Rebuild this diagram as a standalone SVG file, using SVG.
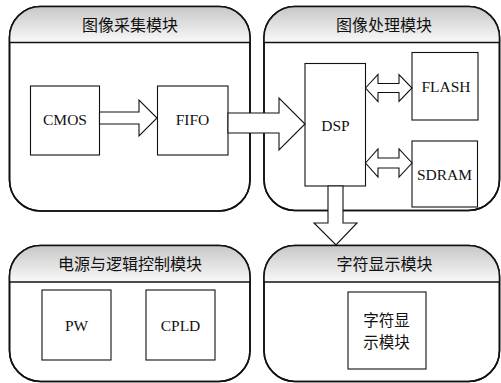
<svg xmlns="http://www.w3.org/2000/svg" width="501" height="383" viewBox="0 0 501 383">
<style>
.cont{fill:#fff;stroke:#111;stroke-width:1.6}
.cont-o{fill:none;stroke:#111;stroke-width:1.6}
.hline{stroke:#111;stroke-width:1.5}
.box{fill:#fff;stroke:#111;stroke-width:1.1}
.arrow{fill:#fff;stroke:#111;stroke-width:1.1;stroke-linejoin:miter}
.title{font-family:"Noto Sans CJK SC","Noto Sans",sans-serif;font-size:16px;fill:#111;text-anchor:middle}
.lbl{font-family:"Liberation Serif","Times New Roman",serif;font-size:15.5px;fill:#111;text-anchor:middle}
.cjk{font-family:"Noto Sans CJK SC","Noto Sans",sans-serif;font-size:15.5px;fill:#111;text-anchor:middle}
</style>
<defs>
<linearGradient id="hg" x1="0" y1="0" x2="0" y2="1">
<stop offset="0" stop-color="#c6c6c6"/>
<stop offset="1" stop-color="#f9f9f9"/>
</linearGradient>
<clipPath id="c1"><rect x="9.5" y="6.5" width="240.5" height="204.5" rx="31" ry="31"/></clipPath>
<clipPath id="c2"><rect x="264" y="6.5" width="235.5" height="204" rx="31" ry="31"/></clipPath>
<clipPath id="c3"><rect x="9.5" y="245.5" width="240.5" height="136" rx="31" ry="31"/></clipPath>
<clipPath id="c4"><rect x="264" y="245.5" width="235.5" height="136" rx="31" ry="31"/></clipPath>
</defs>

<g id="module-capture">
<rect class="cont" x="9.5" y="6.5" width="240.5" height="204.5" rx="31" ry="31"/>
<rect x="9" y="6" width="242" height="36.5" fill="url(#hg)" clip-path="url(#c1)"/>
<rect class="cont-o" x="9.5" y="6.5" width="240.5" height="204.5" rx="31" ry="31"/>
<line class="hline" x1="9.5" y1="42.5" x2="250" y2="42.5"/>
<text class="title" x="130" y="31">图像采集模块</text>
</g>

<g id="module-processing">
<rect class="cont" x="264" y="6.5" width="235.5" height="204" rx="31" ry="31"/>
<rect x="263" y="6" width="238" height="36.5" fill="url(#hg)" clip-path="url(#c2)"/>
<rect class="cont-o" x="264" y="6.5" width="235.5" height="204" rx="31" ry="31"/>
<line class="hline" x1="264" y1="42.5" x2="499.5" y2="42.5"/>
<text class="title" x="384" y="31">图像处理模块</text>
</g>

<g id="module-power">
<rect class="cont" x="9.5" y="245.5" width="240.5" height="136" rx="31" ry="31"/>
<rect x="9" y="245" width="242" height="37" fill="url(#hg)" clip-path="url(#c3)"/>
<rect class="cont-o" x="9.5" y="245.5" width="240.5" height="136" rx="31" ry="31"/>
<line class="hline" x1="9.5" y1="282" x2="250" y2="282"/>
<text class="title" x="130" y="270">电源与逻辑控制模块</text>
</g>

<g id="module-display">
<rect class="cont" x="264" y="245.5" width="235.5" height="136" rx="31" ry="31"/>
<rect x="263" y="245" width="238" height="37" fill="url(#hg)" clip-path="url(#c4)"/>
<rect class="cont-o" x="264" y="245.5" width="235.5" height="136" rx="31" ry="31"/>
<line class="hline" x1="264" y1="282" x2="499.5" y2="282"/>
<text class="title" x="384.5" y="270">字符显示模块</text>
</g>

<g id="cmos"><rect class="box" x="30.5" y="86" width="69" height="69"/><text class="lbl" x="65" y="125">CMOS</text></g>
<g id="fifo"><rect class="box" x="157.5" y="86" width="70.5" height="69"/><text class="lbl" x="192.5" y="125">FIFO</text></g>
<g id="dsp"><rect class="box" x="305" y="63.5" width="60.5" height="122.5"/><text class="lbl" x="335.5" y="131">DSP</text></g>
<g id="flash"><rect class="box" x="412" y="52.5" width="66" height="67.5"/><text class="lbl" x="446" y="92">FLASH</text></g>
<g id="sdram"><rect class="box" x="412" y="141" width="65.5" height="66"/><text class="lbl" x="444.5" y="180">SDRAM</text></g>
<g id="pw"><rect class="box" x="42" y="290" width="69" height="70"/><text class="lbl" x="76.5" y="331">PW</text></g>
<g id="cpld"><rect class="box" x="146" y="290" width="69" height="70"/><text class="lbl" x="180.5" y="331">CPLD</text></g>
<g id="char-display"><rect class="box" x="348" y="292" width="78" height="77"/><text class="cjk" x="386.5" y="326">字符显</text><text class="cjk" x="386.5" y="348">示模块</text></g>

<g id="connectors">
<polygon class="arrow" points="99.5,112 139,112 139,100 157,118 139,136 139,124 99.5,124"/>
<polygon class="arrow" points="228,113 279,113 279,98 305,124 279,150 279,133 228,133"/>
<polygon class="arrow" points="328,186 328,223 314,223 336,245 357,223 343,223 343,186"/>
<polygon class="arrow" points="365.5,88 378,74.5 378,83.5 399,83.5 399,74.5 412,88 399,101.5 399,92.5 378,92.5 378,101.5"/>
<polygon class="arrow" points="365.5,163 378,149 378,158 399,158 399,149 412,163 399,177 399,168 378,168 378,177"/>
</g>
</svg>
